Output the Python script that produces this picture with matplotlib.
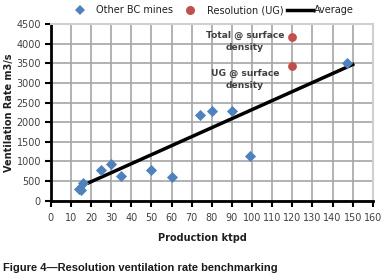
import matplotlib
matplotlib.use("Agg")
import matplotlib.pyplot as plt
from matplotlib.lines import Line2D

# Data
bc_x = [14, 15, 16, 25, 30, 35, 50, 60, 74, 80, 90, 99, 147]
bc_y = [300, 280, 460, 790, 930, 620, 790, 600, 2180, 2290, 2290, 1150, 3500]
res_x = [120, 120]
res_y = [4160, 3430]
avg_x = [19, 150]
avg_y = [460, 3470]
x_ticks = list(range(0, 161, 10))
y_ticks = list(range(0, 4501, 500))
ann_texts = ["Total @ surface\ndensity", "UG @ surface\ndensity"]
ann_x = [96.5, 96.5]
ann_y = [4060, 3080]
legend_labels = ["Other BC mines", "Resolution (UG)", "Average"]

fig = plt.figure(figsize=(3.84, 2.80), dpi=100)
ax = fig.add_axes([0.132, 0.283, 0.839, 0.631])

ax.set_xlim(0, 160)
ax.set_ylim(0, 4500)
ax.set_xticks(x_ticks)
ax.set_yticks(y_ticks)
ax.grid(True, color="#a6a6a6", lw=1.2)
ax.set_axisbelow(True)

ax.plot(avg_x, avg_y, color="black", lw=2.5, zorder=3)
ax.scatter(bc_x, bc_y, marker="D", s=32, color="#4f81bd", zorder=4, linewidths=0)
ax.scatter(res_x, res_y, marker="o", s=40, color="#c0504d", zorder=4, linewidths=0)

for t, x, y in zip(ann_texts, ann_x, ann_y):
    ax.text(x, y, t, ha="center", va="center", fontsize=6.6, fontweight="bold",
            color="#404040", linespacing=1.45, zorder=5)

for s in ["left", "bottom"]:
    ax.spines[s].set_linewidth(2)
    ax.spines[s].set_color("black")
for s in ["top", "right"]:
    ax.spines[s].set_linewidth(1.5)
    ax.spines[s].set_color("#d0d0d0")

ax.tick_params(axis="both", direction="out", length=4, width=1.5, color="black",
               labelsize=6.9, labelcolor="#404040", pad=3)
ax.tick_params(axis="x", pad=5)

ax.set_xlabel("Production ktpd", fontsize=7, fontweight="bold", color="#202020")
ax.xaxis.set_label_coords(0.47, -0.185)
ax.set_ylabel("Ventilation Rate m3/s", fontsize=7, fontweight="bold", color="#202020")
ax.yaxis.set_label_coords(-0.115, 0.5)

handles = [
    Line2D([], [], marker="D", ls="none", color="#4f81bd", markersize=5.5, markeredgewidth=0),
    Line2D([], [], marker="o", ls="none", color="#c0504d", markersize=6.5, markeredgewidth=0),
    Line2D([], [], color="black", lw=2.5),
]
leg_x = [0.190, 0.477, 0.747]
leg_hl = [1.5, 1.5, 2.7]
leg_pad = [0.9, 0.9, 0.1]
for h, lab, x, hl, pd in zip(handles, legend_labels, leg_x, leg_hl, leg_pad):
    fig.legend([h], [lab], loc="center left", bbox_to_anchor=(x, 0.963),
               frameon=False, fontsize=7, handlelength=hl, handletextpad=pd,
               borderpad=0, borderaxespad=0, labelcolor="#202020")

fig.text(0.008, 0.032, "Figure 4\u2014Resolution ventilation rate benchmarking",
         fontsize=8, fontweight="bold", family="Liberation Sans", color="#1a1a1a")

fig.savefig("out.png", dpi=100)
